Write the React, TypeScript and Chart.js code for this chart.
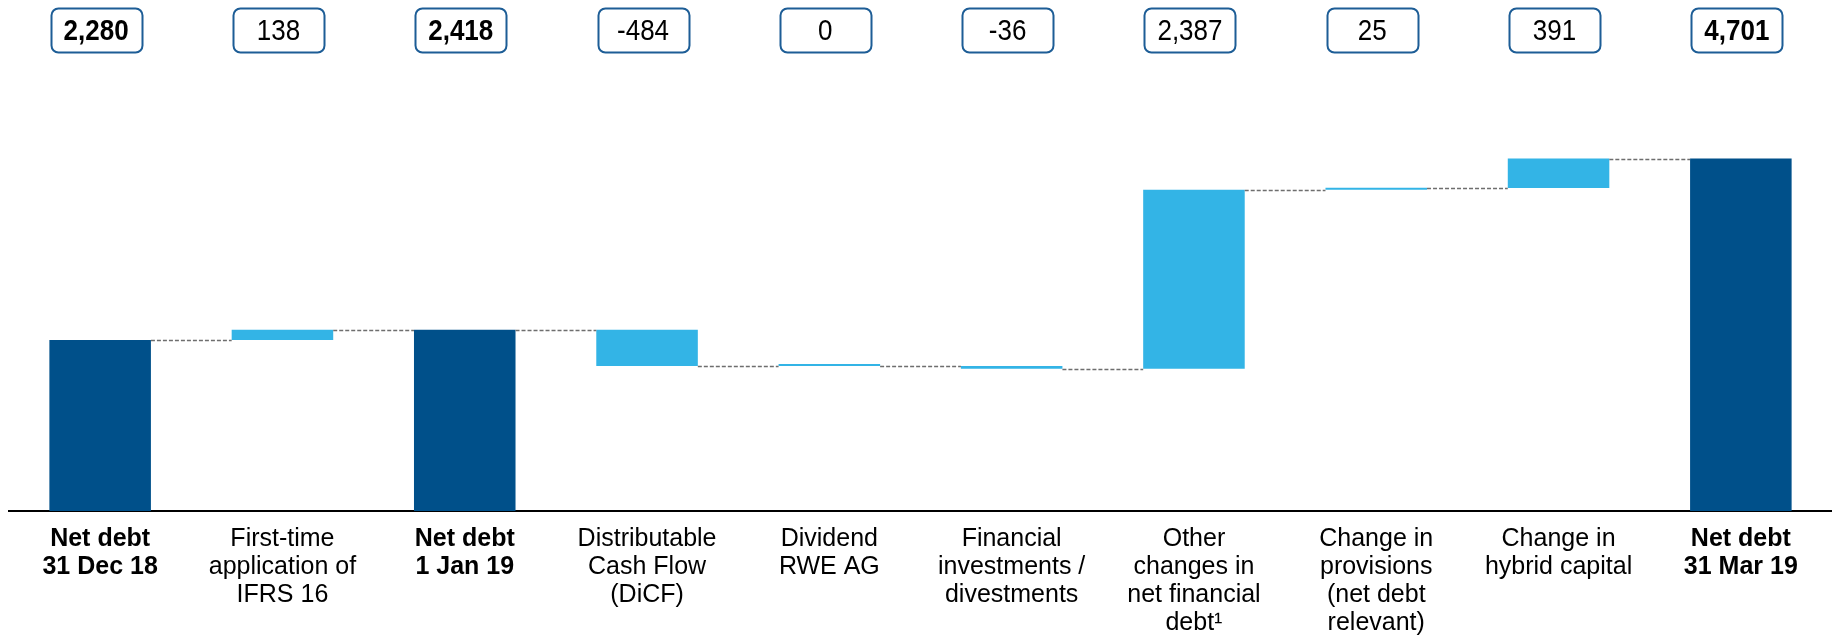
import React, { useEffect, useRef } from "react";
import { Chart, registerables } from "chart.js";

Chart.register(...registerables);

const categories: string[][] = [
  ["Net debt", "31 Dec 18"],
  ["First-time", "application of", "IFRS 16"],
  ["Net debt", "1 Jan 19"],
  ["Distributable", "Cash Flow", "(DiCF)"],
  ["Dividend", "RWE AG"],
  ["Financial", "investments /", "divestments"],
  ["Other", "changes in", "net financial", "debt¹"],
  ["Change in", "provisions", "(net debt", "relevant)"],
  ["Change in", "hybrid capital"],
  ["Net debt", "31 Mar 19"],
];
const values: number[] = [2280, 138, 2418, -484, 0, -36, 2387, 25, 391, 4701];
const isTotal: boolean[] = [true, false, true, false, false, false, false, false, false, true];

const DARK = "#00508A";
const LIGHT = "#33B4E6";
const BOX_BORDER = "#1D5D96";
const FONT = "'Liberation Sans', Arial, sans-serif";

function buildRanges() {
  const ranges: [number, number][] = [];
  const levels: number[] = [];
  let run = 0;
  values.forEach((v, i) => {
    if (isTotal[i]) {
      ranges.push([0, v]);
      run = v;
    } else {
      ranges.push([run, run + v]);
      run = run + v;
    }
    levels.push(run);
  });
  return { ranges, levels };
}

const fmt = (v: number) => v.toLocaleString("en-US");

export default function App() {
  const ref = useRef<HTMLCanvasElement | null>(null);
  useEffect(() => {
    if (!ref.current) return;
    const { ranges, levels } = buildRanges();

    const overlay = {
      id: "overlay",
      afterDatasetsDraw(chart: any) {
        const ctx = chart.ctx;
        const meta = chart.getDatasetMeta(0);
        const y = chart.scales.y;
        ctx.save();
        // connectors
        ctx.strokeStyle = "#6e6e6e";
        ctx.lineWidth = 1.5;
        ctx.setLineDash([4, 2]);
        for (let i = 0; i < meta.data.length - 1; i++) {
          const a = meta.data[i];
          const b = meta.data[i + 1];
          const py = Math.round(y.getPixelForValue(levels[i])) + 0.5;
          ctx.beginPath();
          ctx.moveTo(a.x + a.width / 2, py);
          ctx.lineTo(b.x - b.width / 2, py);
          ctx.stroke();
        }
        ctx.setLineDash([]);
        // value boxes
        const bw = 91, bh = 44, by = 8, r = 7;
        meta.data.forEach((el: any, i: number) => {
          const cx = el.x - 4;
          const x0 = Math.round(cx - bw / 2) + 0.5;
          ctx.beginPath();
          ctx.roundRect(x0, by + 0.5, bw, bh, r);
          ctx.fillStyle = "#fff";
          ctx.fill();
          ctx.strokeStyle = BOX_BORDER;
          ctx.lineWidth = 2;
          ctx.stroke();
          ctx.save();
          ctx.fillStyle = "#000";
          ctx.font = `${isTotal[i] ? "bold " : ""}26px ${FONT}`;
          ctx.textAlign = "center";
          ctx.textBaseline = "middle";
          const ty = by + bh / 2 + 2;
          ctx.translate(cx, ty);
          ctx.scale(1, 1.11);
          ctx.fillText(fmt(values[i]), 0, 0);
          ctx.restore();
        });
        ctx.restore();
      },
    };

    const chart = new Chart(ref.current, {
      type: "bar",
      data: {
        labels: categories,
        datasets: [
          {
            data: ranges as any,
            backgroundColor: values.map((_, i) => (isTotal[i] ? DARK : LIGHT)),
            borderWidth: 0,
            barPercentage: 0.557,
            categoryPercentage: 1,
            minBarLength: 2,
          },
        ],
      },
      options: {
        animation: false,
        responsive: false,
        maintainAspectRatio: false,
        layout: { padding: { left: 9, right: 0, top: 65, bottom: 0 } },
        plugins: { legend: { display: false }, tooltip: { enabled: false } },
        scales: {
          x: {
            grid: { display: false, drawTicks: false },
            border: { display: true, color: "#000", width: 2 },
            afterFit: (s: any) => {
              s.height = 124;
            },
            ticks: {
              color: "#000",
              padding: 14,
              maxRotation: 0,
              autoSkip: false,
              font: (c: any) => ({
                family: FONT,
                size: 25,
                lineHeight: "28px",
                weight: isTotal[c.index] ? "bold" : "normal",
              }),
            },
          },
          y: {
            display: false,
            min: 0,
            max: 5950,
          },
        },
      },
      plugins: [overlay],
    });
    return () => chart.destroy();
  }, []);

  return (
    <div style={{ position: "fixed", left: 0, top: 0, width: 1832, height: 635, background: "#fff" }}>
      <canvas ref={ref} width={1832} height={635} style={{ display: "block", width: 1832, height: 635 }} />
    </div>
  );
}
